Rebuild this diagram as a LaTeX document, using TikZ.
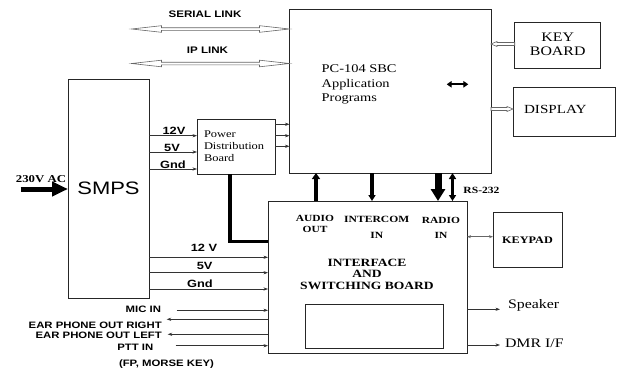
\documentclass[tikz,border=0pt]{standalone}
\usepackage{fontspec}
\usepackage{graphicx}
\setmainfont{Liberation Serif}
\setsansfont{Liberation Sans}
\usetikzlibrary{arrows.meta,calc}
\newcommand{\hstr}[1]{\scalebox{1.22}[1]{#1}}
\begin{document}
\begin{tikzpicture}[x=1pt,y=-1pt,
  blk/.style={draw=black!85, line width=0.9pt, inner sep=0pt, outer sep=0pt},
  txt/.style={inner sep=0pt, outer sep=0pt, text=black},
  sig/.style={draw=black!80, line width=0.6pt, -{Stealth[length=4.5pt,width=3.2pt]}},
  hol/.style={draw=black!60, line width=0.6pt, fill=white},
  sansb/.style={txt, font=\sffamily\bfseries\fontsize{#1}{#1}\selectfont},
  sansb/.default=9,
  thickarr/.style={draw=black, fill=black}
]
\useasboundingbox[fill=white] (0,0) rectangle (618,372);

% ---------- boxes ----------
\node[blk, minimum width=201.5pt, minimum height=164pt] (pc) at (390.25,91) {};
\node[blk, minimum width=86pt, minimum height=46pt, font=\rmfamily\fontsize{13}{14.5}\selectfont] (kb) at (557.7,45.7) {\hstr{\begin{tabular}{@{}c@{}}KEY\\BOARD\end{tabular}}};
\node[blk, minimum width=102pt, minimum height=49pt] (disp) at (564,111.5) {};
\node[txt, font=\rmfamily\fontsize{12.4}{14}\selectfont] (displbl) at (555.3,109) {\hstr{DISPLAY}};
\node[blk, minimum width=81pt, minimum height=219pt, font=\sffamily\fontsize{18}{20}\selectfont] (smps) at (108.5,188.5) {\hstr{SMPS}};
\node[blk, minimum width=78pt, minimum height=55pt] (pdb) at (236,146.5) {};
\node[txt, anchor=west, font=\rmfamily\fontsize{10.2}{12}\selectfont] (pdblbl) at (204,147) {\hstr{\begin{tabular}{@{}l@{}}Power\\Distribution\\Board\end{tabular}}};
\node[blk, minimum width=199pt, minimum height=152pt] (ifb) at (367.5,277) {};
\node[blk, minimum width=137.3pt, minimum height=44pt] (inner) at (374.4,326) {};
\node[blk, minimum width=69pt, minimum height=55pt, font=\rmfamily\bfseries\fontsize{10}{12}\selectfont] (kp) at (527.5,240) {\hstr{KEYPAD}};

% ---------- texts ----------
\node[txt, anchor=west, font=\rmfamily\fontsize{11.8}{14.2}\selectfont] (pclbl) at (321.7,84.3) {\hstr{\begin{tabular}{@{}l@{}}PC-104 SBC\\Application\\Programs\end{tabular}}};
\node[txt, font=\rmfamily\bfseries\fontsize{11.1}{11.4}\selectfont] (ifblbl) at (367,275.5) {\hstr{\begin{tabular}{@{}c@{}}INTERFACE\\AND\\SWITCHING BOARD\end{tabular}}};
\node[txt, font=\rmfamily\bfseries\fontsize{9.4}{10.8}\selectfont] (audlbl) at (315,224.5) {\hstr{\begin{tabular}{@{}c@{}}AUDIO\\OUT\end{tabular}}};
\node[txt, font=\rmfamily\bfseries\fontsize{9.5}{15.7}\selectfont] (intlbl) at (376.7,227.2) {\hstr{\begin{tabular}{@{}c@{}}INTERCOM\\IN\end{tabular}}};
\node[txt, font=\rmfamily\bfseries\fontsize{9.4}{15}\selectfont] (radlbl) at (441,227.5) {\hstr{\begin{tabular}{@{}c@{}}RADIO\\IN\end{tabular}}};
\node[txt, font=\rmfamily\bfseries\fontsize{9.5}{11}\selectfont] (rslbl) at (481.5,190.7) {\hstr{RS-232}};
\node[txt, anchor=west, font=\rmfamily\fontsize{13}{14}\selectfont] (spklbl) at (508,305.7) {\hstr{Speaker}};
\node[txt, anchor=west, font=\rmfamily\fontsize{13}{14}\selectfont] (dmrlbl) at (505,343.3) {\hstr{DMR I/F}};
\node[txt, font=\rmfamily\bfseries\fontsize{10.5}{12}\selectfont] (aclbl) at (41,179) {\hstr{230V AC}};

\node[sansb=9.5] (serlbl) at (205,14) {\hstr{SERIAL LINK}};
\node[sansb=9.5] (iplbl) at (207.5,50) {\hstr{IP LINK}};

\node[sansb=10.5] (v12a) at (174,131) {\hstr{12V}};
\node[sansb=10.5] (v5a) at (172,147.7) {\hstr{5V}};
\node[sansb=10.5] (gnda) at (173,164.3) {\hstr{Gnd}};
\node[sansb=10.5] (v12b) at (204,248.3) {\hstr{12 V}};
\node[sansb=10.5] (v5b) at (204.7,266) {\hstr{5V}};
\node[sansb=10.5] (gndb) at (200,283.3) {\hstr{Gnd}};

\node[sansb=9.3, anchor=east] (miclbl) at (161,309.5) {\hstr{MIC IN}};
\node[sansb=9.3, anchor=east] (earrlbl) at (161.7,325.7) {\hstr{EAR PHONE OUT RIGHT}};
\node[sansb=9.3, anchor=east] (earllbl) at (161.7,335.7) {\hstr{EAR PHONE OUT LEFT}};
\node[sansb=9.3, anchor=east] (pttlbl) at (153.3,347.7) {\hstr{PTT IN}};
\node[sansb=9.3] (fplbl) at (166.5,364) {\hstr{(FP, MORSE KEY)}};

% ---------- connectors ----------
% hollow link arrows
\draw[hol] (pc.west |- 0,29) -- ++(-30,-3.3) -- ++(0,2) -- ++(-98,0) -- ++(0,-2) -- ++(-30,3.3)
  -- ++(30,3.3) -- ++(0,-2) -- ++(98,0) -- ++(0,2) -- cycle;
\draw[hol] (pc.west |- 0,63.5) -- ++(-30,-3.3) -- ++(0,2) -- ++(-98,0) -- ++(0,-2) -- ++(-30,3.3)
  -- ++(30,3.3) -- ++(0,-2) -- ++(98,0) -- ++(0,2) -- cycle;
\draw[hol] (pc.east |- 0,44) -- ++(6,-2.5) -- ++(0,1) -- (kb.west |- 0,42.5) -- (kb.west |- 0,45.5)
  -- ($(pc.east |- 0,45.5)+(6,0)$) -- ++(0,1) -- cycle;
\draw[hol] (pc.east |- 0,107.5) -- ($(disp.west |- 0,107.5)+(-6,0)$) -- ++(0,-1) -- (disp.west |- 0,109)
  -- ++(-6,2.5) -- ++(0,-1) -- (pc.east |- 0,110.5) -- cycle;

% small double arrow inside PC
\coordinate (dA) at (446.7,84.3);
\coordinate (dB) at (468.3,84.3);
\draw[line width=2.2pt, {Triangle[length=5pt,width=6.5pt]}-{Triangle[length=5pt,width=6.5pt]}] (dA) -- (dB);

% AC input
\coordinate (acin) at (20.7,189);
\draw[line width=5pt, -{Triangle[length=16pt,width=14pt]}] (acin) -- (smps.west |- acin);

% SMPS -> PDB
\draw[sig] (smps.east |- 0,135.7) -- (pdb.west |- 0,135.7);
\draw[sig] (smps.east |- 0,152) -- (pdb.west |- 0,152);
\draw[sig] (smps.east |- 0,169) -- (pdb.west |- 0,169);
% PDB -> PC
\draw[sig] (pdb.east |- 0,124.3) -- (pc.west |- 0,124.3);
\draw[sig] (pdb.east |- 0,135.7) -- (pc.west |- 0,135.7);
\draw[sig] (pdb.east |- 0,146.3) -- (pc.west |- 0,146.3);

% PDB -> interface (thick)
\draw[line width=3.5pt] (pdb.south -| 230,0) |- (ifb.west |- 0,241.7);

% SMPS -> interface
\draw[sig] (smps.east |- 0,257.3) -- (ifb.west |- 0,257.3);
\draw[sig] (smps.east |- 0,272.7) -- (ifb.west |- 0,272.7);
\draw[sig] (smps.east |- 0,289) -- (ifb.west |- 0,289);

% audio I/O lines
\coordinate (micS) at (176.7,310.3);
\coordinate (earR) at (166.7,319.3);
\coordinate (earL) at (167.7,334.3);
\coordinate (pttS) at (175.7,345.7);
\draw[sig] (micS) -- (ifb.west |- micS);
\draw[sig] (ifb.west |- earR) -- (earR);
\draw[sig] (ifb.west |- earL) -- (earL);
\draw[sig] (pttS) -- (ifb.west |- pttS);

% outputs
\coordinate (spk) at (500,309.3);
\coordinate (dmr) at (500,345);
\draw[sig] (ifb.east |- spk) -- (spk);
\draw[sig] (ifb.east |- dmr) -- (dmr);

% keypad
\draw[draw=black!60, line width=0.7pt, {Stealth[length=4pt,width=3pt]}-{Stealth[length=4pt,width=3pt]}] (ifb.east |- 0,236.7) -- (kp.west |- 0,236.7);

% vertical links PC <-> interface
\draw[line width=4pt, -{Triangle[length=6pt,width=8pt]}] (ifb.north -| 316,0) -- (pc.south -| 316,0);
\draw[line width=3.5pt, -{Triangle[length=6pt,width=7pt]}] (pc.south -| 372,0) -- (ifb.north -| 372,0);
\draw[line width=7pt, -{Triangle[length=12pt,width=14pt]}] (pc.south -| 438,0) -- (ifb.north -| 438,0);
\draw[line width=3pt, {Triangle[length=6pt,width=7pt]}-{Triangle[length=6pt,width=7pt]}] (pc.south -| 452.5,0) -- (ifb.north -| 452.5,0);
\end{tikzpicture}
\end{document}
